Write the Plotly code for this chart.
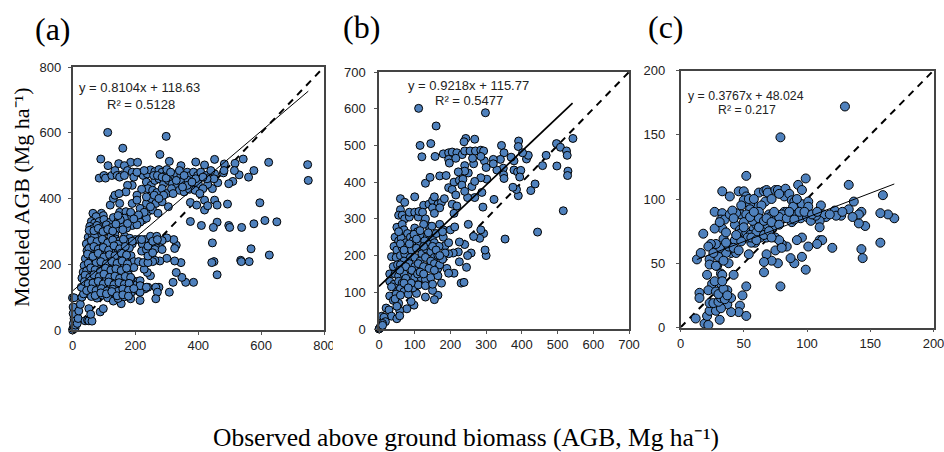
import plotly.graph_objects as go

W, H = 944, 452

# ---- Panel (a) observed / modeled AGB
points_a = [
(112,601),(298,589),(160,553),(90,520),(278,534),(113,500),(147,506),(185,510),(207,510),(165,500),(308,513),(345,500),(392,511),(452,519),(420,502),(483,505),(517,507),(543,520),(624,510),(748,503),(750,455),(577,485),(560,465),(530,472),(515,485),(510,452),(497,445),(480,478),(482,485),(462,448),(452,475),(445,430),(430,443),(420,395),(420,365),(430,378),(452,395),(460,380),(493,383),(497,318),(500,312),(538,312),(577,323),(612,333),(650,329),(596,387),(460,328),(448,312),(410,318),(375,330),(375,388),(395,380),(445,265),(568,247),(626,228),(535,212),(537,208),(562,208),(450,208),(443,205),(460,168),(385,145),(360,145),(348,160),(345,205),(330,175),(320,145),(308,115),(330,258),(325,248),(322,275),(325,210),(300,280),(300,218),(285,272),(280,250),(278,210),(262,212),(255,208),(248,165),(238,175),(228,185),(240,130),(230,125),(275,130),(265,130),(270,115),(265,95),(215,90),
(85,462),(100,470),(105,462),(125,470),(135,485),(142,470),(158,472),(175,485),(190,480),(195,465),(215,478),(225,470),(238,475),(248,487),(262,482),(275,488),(285,480),(295,470),(300,488),(310,470),(320,462),(330,475),(345,470),(352,455),(365,480),(375,470),(385,480),(398,470),(408,480),(425,470),(440,485),(450,460),(235,450),(250,440),(262,455),(275,460),(290,445),(305,455),(318,445),(332,440),(345,450),(358,440),(368,455),(385,438),(400,445),(415,430),(428,460),(340,425),(355,420),(372,428),(390,425),(405,415),(240,430),(255,425),(268,418),(285,430),(300,415),(315,430),(220,428),(205,410),(190,440),(175,440),(170,420),(190,385),(205,395),(215,370),(235,385),(250,400),(265,385),(285,390),(290,410),(305,375),(240,360),(255,365),(272,355),(225,335),(235,340),(215,328),(190,318),(172,310),(205,320),(120,380),(130,400),(135,410),(148,415),(150,385),(112,320),
(65,355),(92,355),(98,348),(75,345),(60,330),(70,325),(85,330),(100,336),(120,328),(130,342),(145,332),(150,358),(170,360),(180,345),(165,340),(55,315),(65,308),(78,318),(90,311),(108,320),(125,312),(140,306),(155,322),(175,324),(185,358),(50,282),(61,293),(75,298),(91,289),(105,301),(119,296),(135,290),(53,268),(66,276),(85,281),(99,272),(122,284),(136,277),(150,271),(166,285),(182,279),(200,275),(212,275),(230,275),(248,285),(268,285),(44,262),(57,253),(73,264),(88,258),(105,255),(124,265),(139,252),(155,263),(172,268),(190,262),(222,262),(250,262),(265,250),(46,241),(60,232),(76,243),(92,229),(110,238),(127,234),(146,244),(162,235),(181,250),(220,240),(240,240),(41,217),(56,209),(68,221),(85,212),(103,219),(120,211),(135,223),(151,213),(168,220),(186,226),(195,208),(210,208),(37,196),(51,187),(65,198),(83,192),(98,201),(115,194),(131,188),(148,199),(166,196),(181,187),(195,190),(34,176),(48,168),(62,179),(78,170),(95,181),(112,173),(128,176),(142,166),(160,175),(178,168),(30,158),(44,153),(59,147),(75,158),(92,150),(108,156),(125,152),(140,147),(158,153),(175,146),(190,152),(208,148),(41,137),(55,128),(70,138),(88,131),(105,136),(122,130),(138,134),(155,128),(170,133),(185,129),(205,138),(210,118),(222,130),(50,110),(65,113),(82,109),(100,116),(118,107),(135,113),(152,109),(168,117),(185,111),(60,102),(78,97),(95,106),(112,98),(130,88),(155,80),(145,96),(165,101),(185,95),
(0,0),(2,5),(5,10),(3,20),(8,5),(10,15),(5,35),(2,50),(2,70),(0,98),(5,98),(15,20),(18,35),(20,58),(25,78),(30,100),(40,28),(48,30),(52,28),(62,27),(52,65),(58,48),(88,55),(98,65),(35,110),(28,130),(60,205),(70,285),(55,245),(75,205),(50,125),
(215,115),(215,150),(215,135),(235,130),(225,205),(240,205),(235,245),(240,225),(240,255),(255,270),(270,275),(262,245),(255,235),(285,245),(220,275),(190,270),
(53,303),(68,302),(82,309),(97,299),(112,306),(128,301),(60,272),(78,269),(95,276),(112,265),(128,274),(145,261),(162,276),(52,248),(68,254),(82,246),(98,251),(115,243),(132,256),(150,247),(168,254),(48,231),(65,224),(82,233),(100,222),(118,229),(135,226),(155,234),(172,228),(50,203),(90,208),(108,201),(125,209),(142,203),(158,210),(175,201),(45,180),(58,189),(72,183),(88,178),(105,188),(122,182),(138,186),(155,181),(172,188),(40,167),(55,160),(68,168),(85,162),(100,170),(118,160),(135,164),(150,157),(168,163),(185,160),(38,147),(50,141),(65,143),(82,148),(98,140),(115,146),(132,138),(148,144),(165,139),(180,142),(45,120),(60,125),(75,120),(92,126),(110,119),(128,124),(145,118),(160,125),(178,121),(195,126),(72,105),(90,113),(108,110),(125,117),(142,104),(160,107),(178,103),
(150,465),(165,470),(205,480),(228,485),(258,470),(270,470),(285,465),(298,462),(312,480),(340,485),(355,470),(392,460),(415,465),(330,455),(365,440),(380,450),(350,435),(320,415),(235,405),(260,410),(275,400),(248,375),(228,358),(210,350),(195,338),(152,335),(138,322),(160,305),(145,348)
]

# ---- Panel (b)
points_b = [
(111,601),(298,589),(160,553),(115,500),(145,505),(120,469),(157,470),(243,519),(268,517),(238,510),(343,500),(391,512),(390,497),(543,519),(497,505),(508,495),(525,485),(527,473),(468,473),(498,444),(458,445),(529,430),(528,418),(516,322),(444,264),(353,245),(437,395),(425,377),(390,363),(385,380),(375,386),(378,433),(388,428),(397,432),(394,414),(413,463),(418,473),(402,480),(378,458),(370,468),(350,480),(348,438),(349,420),(350,410),(330,433),(340,462),(320,462),(320,450),(295,458),(300,440),(302,408),(285,412),(288,372),(291,332),(322,353),(268,358),(248,358),(260,388),(268,402),(300,200),(297,215),(293,260),(285,270),(282,247),(265,252),(250,285),(258,207),(248,200),(245,168),(240,230),(225,237),(222,210),(225,183),(230,125),(238,127),(210,152),(208,207),(195,205),(185,227),(180,250),(185,207),(190,165),(195,152),(175,125),(165,92),(155,80),(150,105),(130,87),(135,170),(98,65),(78,55),(90,75),(105,97),(95,112),(110,120),
(180,477),(195,480),(205,482),(218,480),(233,475),(240,485),(255,485),(270,485),(285,487),(293,485),(285,470),(195,462),(215,465),(197,452),(240,445),(265,450),(262,465),(250,425),(240,430),(222,428),(170,417),(188,418),(195,385),(210,400),(225,405),(235,408),(205,380),(232,392),(215,365),(240,375),(130,397),(143,413),(100,360),(60,355),(72,345),(125,337),(140,340),(150,350),(155,360),(165,340),(175,345),(183,355),(205,340),(218,335),(210,315),(150,330),(170,330),(155,315),(60,325),(55,310),(65,310),(72,300),(85,305),(85,318),(100,318),(110,305),(112,320),(122,318),(130,300),(140,280),(125,285),(148,280),(170,285),(180,270),(200,270),(212,278),(50,277),(65,285),(70,270),(80,260),(100,275),(108,265),(120,250),(135,250),(150,250),(160,260),(178,265),(45,250),(55,240),(62,248),(75,235),(88,250),(95,240),(112,228),(128,240),(140,230),(155,235),(168,225),(42,225),(50,215),(65,222),(78,222),(90,215),(105,220),(120,205),(132,218),(145,210),(155,195),(165,200),(35,197),(48,195),(60,200),(72,205),(88,195),(100,195),(115,185),(130,195),(145,185),(155,178),(165,165),(40,170),(52,175),(70,185),(85,178),(100,170),(110,178),(125,170),(140,165),(170,175),(30,150),(45,150),(55,145),(70,150),(85,140),(100,140),(118,140),(130,135),(145,140),(165,145),(30,130),(42,122),(55,130),(65,125),(75,138),(90,125),(130,118),(150,122),(35,115),(50,100),(60,110),(70,102),(82,95),(30,90),(40,78),(48,95),(55,70),(58,50),(50,62),(45,82),(60,92),(20,57),(28,52),(35,35),(50,28),(58,36),(8,35),(14,32),(18,20),(10,15),(5,8),(3,4),(0,0),(2,2),(7,5),(10,10),
(55,265),(60,232),(70,215),(85,232),(98,258),(105,245),(115,268),(125,225),(138,262),(150,225),(160,215),(60,175),(75,170),(92,160),(108,150),(58,160),(70,125),(82,112),(115,155),(125,150),(155,160),(178,190),(195,235),(170,200)
]

# ---- Panel (c)
points_c = [
(130,172),(79,148),(52,118),(99,116),(93,111),(96,107),(133,111),(33,106),(46,106),(50,106),(39,102),(52,102),(50,99),(48,95),(62,105),(66,106),(68,107),(69,105),(75,107),(77,107),(83,108),(82,102),(86,104),(67,98),(59,94),(64,95),(55,96),(55,92),(88,99),(90,98),(89,94),(96,96),(101,98),(101,94),(111,95),(137,98),(160,103),(169,85),(164,88),(158,89),(158,66),(146,79),(143,90),(141,81),(141,88),(143,61),(144,54),(133,92),(136,86),(127,87),(122,91),(123,87),(115,86),(113,88),(110,83),(110,78),(110,68),(112,68),(108,65),(120,62),(101,63),(99,45),(96,55),(96,70),(92,68),(90,50),(87,54),(84,63),(80,65),(79,32),(77,50),(75,60),(72,52),(68,57),(66,51),(66,43),(54,57),(52,32),(49,25),(47,17),(46,12),(52,9),(40,12),(37,18),(40,23),(37,29),(32,34),(25,34),(22,29),(15,27),(15,23),(21,41),(29,48),(32,42),(33,41),(42,41),(38,50),(40,58),(36,58),(44,58),(38,63),(31,62),(28,65),(24,65),(22,63),(18,73),(13,53),(16,58),(23,53),(23,49),(28,48),(30,55),(34,69),(33,77),(27,77),(27,90),(33,89),(32,84),(35,84),(31,82),(43,80),(45,88),(48,88),(52,88),(44,89),(39,88),(41,91),(47,76),(47,73),(45,70),(43,68),(52,74),(58,77),(66,77),(68,70),(63,70),(59,66),(56,66),(55,72),(53,70),(48,67),(60,80),(57,83),(62,90),(62,85),(65,80),(70,88),(72,87),(75,83),(76,87),(82,90),(88,82),(92,88),(95,85),(100,86),(103,83),(107,87),(75,70),(78,68),(80,62),(12,7),(19,3),(22,2),(21,9),(23,13),(31,6),(28,13),(32,15),(23,19),(26,19),(30,20),(32,23),(35,22),(28,28),(30,26),(34,30),(37,25),(84,90),(80,88),(78,86),(73,78),(68,78),(64,75),
(36,74),(42,85),(50,82),(55,86),(58,90),(60,74),(62,78),(66,83),(68,85),(72,82),(74,90),(50,78),(44,72),(56,70),(60,68),(66,72),(70,75),(72,70),(78,80),(84,85),(86,90),(90,84),(94,90),(98,90),(104,88),(108,90),(118,88),(128,90),(54,100),(58,100),(72,100),(78,104),(92,100),(42,62),(36,66),(46,60),(26,58),(34,52),(27,36),(33,36)
]

panel_labels = ["(a)", "(b)", "(c)"]
axis_max = [800, 700, 200]
tick_values = [[0,200,400,600,800], [0,100,200,300,400,500,600,700], [0,50,100,150,200]]
slopes = [0.8104, 0.9218, 0.3767]
intercepts = [118.63, 115.77, 48.024]
trend_x_start = [0, 0, 13]
trend_x_end = [750, 542, 169]
trend_widths = [1, 1.7, 1]
equations = ["y = 0.8104x + 118.63", "y = 0.9218x + 115.77", "y = 0.3767x + 48.024"]
r2_texts = ["R² = 0.5128", "R² = 0.5477", "R² = 0.217"]
series = [points_a, points_b, points_c]

# pixel layout of each plot box: left, right, top, bottom
boxes = [(72.5, 324, 67, 330), (379, 629, 72, 329), (680.5, 933.5, 70.5, 327.5)]
eq_pos = [(77, 88), (406, 85), (686, 96)]
r2_pos = [(105, 104), (433, 101), (716, 110)]
label_pos = [(33, 29), (341, 27), (646, 27)]
text_sizes = [13, 13, 12.3]
marker_sizes = [8, 8, 9]
tick_standoff = [4, 6, 8]

fig = go.Figure()
annotations = []
layout_axes = {}
for i in range(3):
    n = "" if i == 0 else str(i + 1)
    L, R, T, B = boxes[i]
    xa, ya = f"x{n}", f"y{n}"
    mx = axis_max[i]
    fig.add_trace(go.Scatter(x=[0, mx], y=[0, mx], mode="lines", xaxis=xa, yaxis=ya,
                             line=dict(color="black", width=2, dash="7px,6px"), showlegend=False))
    xs = [p[0] for p in series[i]]
    ys = [p[1] for p in series[i]]
    fig.add_trace(go.Scatter(x=xs, y=ys, mode="markers", xaxis=xa, yaxis=ya, cliponaxis=False,
                             marker=dict(size=marker_sizes[i], color="#4f81bd", line=dict(color="black", width=1)),
                             showlegend=False))
    tx = [trend_x_start[i], trend_x_end[i]]
    fig.add_trace(go.Scatter(x=tx, y=[slopes[i] * v + intercepts[i] for v in tx], mode="lines",
                             xaxis=xa, yaxis=ya, line=dict(color="black", width=trend_widths[i]),
                             showlegend=False))
    common = dict(range=[0, mx], tickvals=tick_values[i], ticks="outside", ticklen=3, tickwidth=1,
                  tickcolor="#555555", showgrid=False, zeroline=False, showline=True, mirror=True,
                  linecolor="#444444", linewidth=1.5, automargin=False, ticklabeloverflow="allow",
                  tickfont=dict(family="Liberation Sans", size=13, color="#222222"))
    layout_axes[f"xaxis{n}"] = dict(domain=[L / W, R / W], anchor=ya, **common)
    layout_axes[f"yaxis{n}"] = dict(domain=[1 - B / H, 1 - T / H], anchor=xa,
                                    ticklabelstandoff=tick_standoff[i], **common)
    for txt, (px, py), sz, fam, col in [
        (equations[i], eq_pos[i], text_sizes[i], "Liberation Sans", "#222222"),
        (r2_texts[i], r2_pos[i], text_sizes[i], "Liberation Sans", "#222222"),
        (panel_labels[i], label_pos[i], 32, "Liberation Serif", "black"),
    ]:
        annotations.append(dict(text=txt, xref="paper", yref="paper", x=px / W, y=1 - py / H,
                                xanchor="left", yanchor="middle", showarrow=False,
                                font=dict(family=fam, size=sz, color=col)))

annotations.append(dict(text="Modeled AGB (Mg ha⁻¹)", xref="paper", yref="paper",
                        x=21 / W, y=1 - 197 / H, textangle=-90, showarrow=False,
                        xanchor="center", yanchor="middle",
                        font=dict(family="Liberation Serif", size=22, color="black")))
annotations.append(dict(text="Observed above ground biomass (AGB, Mg ha⁻¹)", xref="paper", yref="paper",
                        x=466 / W, y=1 - 437 / H, showarrow=False, xanchor="center", yanchor="middle",
                        font=dict(family="Liberation Serif", size=25.5, color="black")))

fig.update_layout(width=W, height=H, margin=dict(l=0, r=0, t=0, b=0, autoexpand=False), paper_bgcolor="white",
                  plot_bgcolor="white", annotations=annotations, showlegend=False,
                  shapes=[dict(type="rect", xref="paper", yref="paper", x0=333 / W, x1=342 / W,
                               y0=1 - 352 / H, y1=1 - 335 / H, fillcolor="white", line_width=0, layer="above")],
                  **layout_axes)
fig.write_html("out.html", config=dict(displayModeBar=False),
               post_script="document.body.style.margin='0';document.body.style.overflow='hidden';")
